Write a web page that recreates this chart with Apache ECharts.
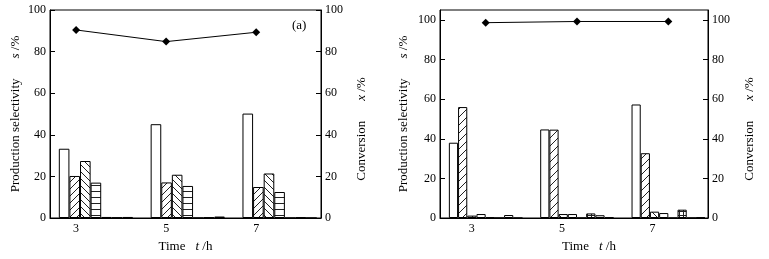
<!DOCTYPE html>
<html>
<head>
<meta charset="utf-8">
<script src="https://cdn.jsdelivr.net/npm/echarts@6/dist/echarts.min.js"></script>
<style>
  html, body { margin: 0; padding: 0; background: #fff; }
  #main { width: 769px; height: 259px; }
</style>
</head>
<body>
<div id="main"></div>
<script>
const hours = ['3', '5', '7'];
const hourTicks = [3, 5, 7];
const yTicks = [0, 20, 40, 60, 80, 100];

// panel (a): selectivity of each product, %
const a1 = [33.3, 45.1, 50.2];
const a2 = [20.2, 17.1, 14.9];
const a3 = [27.4, 20.8, 21.4];
const a4 = [17.0, 15.4, 12.5];
const a5 = [0.5, 0, 0];
const a6 = [0.2, 0.3, 0.3];
const a7 = [0.5, 0.7, 0];
const aConv = [90.4, 84.8, 89.3];

// panel (b)
const b1 = [38.0, 44.7, 57.3];
const b2 = [56.0, 44.6, 32.7];
const b3 = [1.2, 2.0, 3.2];
const b4 = [2.0, 2.0, 2.5];
const b5 = [0.3, 0, 0];
const b6 = [0, 2.3, 4.2];
const b7 = [1.5, 1.4, 0];
const b8 = [0, 0.3, 0.3];
const bConv = [98.6, 99.2, 99.2];

const FONT = 'Liberation Serif';

function hatch(kind, step) {
  const c = document.createElement('canvas');
  c.width = step; c.height = step;
  const g = c.getContext('2d');
  g.fillStyle = '#fff';
  g.fillRect(0, 0, step, step);
  g.strokeStyle = '#222';
  g.lineWidth = 1;
  g.beginPath();
  if (kind === '/') {
    g.moveTo(-1, step + 1); g.lineTo(step + 1, -1);
  } else if (kind === '\\') {
    g.moveTo(-1, -1); g.lineTo(step + 1, step + 1);
  } else if (kind === '-') {
    g.moveTo(0, step - 0.5); g.lineTo(step, step - 0.5);
  } else if (kind === '+') {
    g.moveTo(0, step - 0.5); g.lineTo(step, step - 0.5);
    g.moveTo(step - 0.5, 0); g.lineTo(step - 0.5, step);
  }
  g.stroke();
  return { image: c, repeat: 'repeat' };
}

function bars(data, fill, width, xi, yi) {
  return {
    type: 'bar', data: data, xAxisIndex: xi, yAxisIndex: yi,
    barWidth: width, barGap: '0%',
    itemStyle: { color: fill, borderColor: '#000', borderWidth: 1 },
    silent: true
  };
}

const rich = {
  n: { fontFamily: FONT, fontSize: 13, color: '#000' },
  i: { fontFamily: FONT, fontSize: 13, fontStyle: 'italic', color: '#000' },
  g: { width: 20 },
  h: { width: 10 },
  p: { width: 30 }
};

function frameY(grid, pos, max, name, gap) {
  return {
    type: 'value', gridIndex: grid, position: pos, min: 0, max: max,
    name: name, nameLocation: 'middle', nameRotate: 90, nameGap: gap,
    nameTextStyle: { rich: rich },
    axisLine: { show: true, lineStyle: { color: '#000' } },
    axisTick: { show: true, inside: true, length: 5, customValues: yTicks, lineStyle: { color: '#000' } },
    axisLabel: { customValues: yTicks, margin: 4, fontFamily: FONT, fontSize: 12, color: '#000' },
    splitLine: { show: false }
  };
}

function hiddenY(grid, max) {
  return { type: 'value', gridIndex: grid, min: 0, max: max, show: false, splitLine: { show: false } };
}

function timeX(grid, min, max, name) {
  return {
    type: 'value', gridIndex: grid, min: min, max: max,
    name: name, nameLocation: 'middle', nameGap: 17,
    nameTextStyle: { rich: rich },
    axisLine: { show: true, onZero: false, lineStyle: { color: '#000' } },
    axisTick: { show: false },
    axisLabel: { customValues: hourTicks, margin: 5, fontFamily: FONT, fontSize: 12, color: '#000' },
    splitLine: { show: false }
  };
}

const chart = echarts.init(document.getElementById('main'));
chart.setOption({
  animation: false,
  backgroundColor: '#fff',
  title: {
    text: '(a)', left: 292, top: 19, padding: 0,
    textStyle: { fontFamily: FONT, fontSize: 13, fontWeight: 'normal', color: '#000' }
  },
  grid: [
    { left: 50, right: 448, top: 10, bottom: 41, show: true, borderColor: '#000', borderWidth: 1 },
    { left: 50, right: 443.5, top: 10, bottom: 41 },
    { left: 440, right: 61, top: 10, bottom: 41, show: true, borderColor: '#000', borderWidth: 1 },
    { left: 440, right: 55, top: 10, bottom: 41 }
  ],
  xAxis: [
    timeX(0, 2.42, 8.44, '{n|Time}{h|}{i|t}{n| /h}'),
    { type: 'category', gridIndex: 1, data: hours, show: false },
    timeX(2, 2.30, 8.23, '{p|}{n|Time}{h|}{i|t}{n| /h}'),
    { type: 'category', gridIndex: 3, data: hours, show: false }
  ],
  yAxis: [
    frameY(0, 'left', 100, '{n|Production selectivity}{g|}{i|s}{n| /%}', 28),
    frameY(0, 'right', 100, '{n|Conversion}{g|}{i|x}{n| /%}{p|}', 34),
    hiddenY(1, 100),
    frameY(2, 'left', 105, '{n|Production selectivity}{g|}{i|s}{n| /%}', 30),
    frameY(2, 'right', 105, '{n|Conversion}{g|}{i|x}{n| /%}{p|}', 35),
    hiddenY(3, 105)
  ],
  series: [
    bars(a1, '#fff', 10.6, 1, 2),
    bars(a2, hatch('/', 7), 10.6, 1, 2),
    bars(a3, hatch('\\', 7), 10.6, 1, 2),
    bars(a4, hatch('-', 6), 10.6, 1, 2),
    bars(a5, '#fff', 10.6, 1, 2),
    bars(a6, '#fff', 10.6, 1, 2),
    bars(a7, '#fff', 10.6, 1, 2),
    {
      type: 'line', xAxisIndex: 0, yAxisIndex: 1,
      data: hourTicks.map((h, i) => [h, aConv[i]]),
      symbol: 'diamond', symbolSize: 8,
      lineStyle: { color: '#000', width: 1 }, itemStyle: { color: '#000' }
    },
    bars(b1, '#fff', 9.2, 3, 5),
    bars(b2, hatch('/', 8), 9.2, 3, 5),
    bars(b3, hatch('\\', 8), 9.2, 3, 5),
    bars(b4, '#fff', 9.2, 3, 5),
    bars(b5, '#fff', 9.2, 3, 5),
    bars(b6, hatch('+', 4), 9.2, 3, 5),
    bars(b7, '#fff', 9.2, 3, 5),
    bars(b8, '#fff', 9.2, 3, 5),
    {
      type: 'line', xAxisIndex: 3, yAxisIndex: 5,
      data: bConv,
      symbol: 'diamond', symbolSize: 8,
      lineStyle: { color: '#000', width: 1 }, itemStyle: { color: '#000' }
    }
  ]
});
</script>
</body>
</html>
